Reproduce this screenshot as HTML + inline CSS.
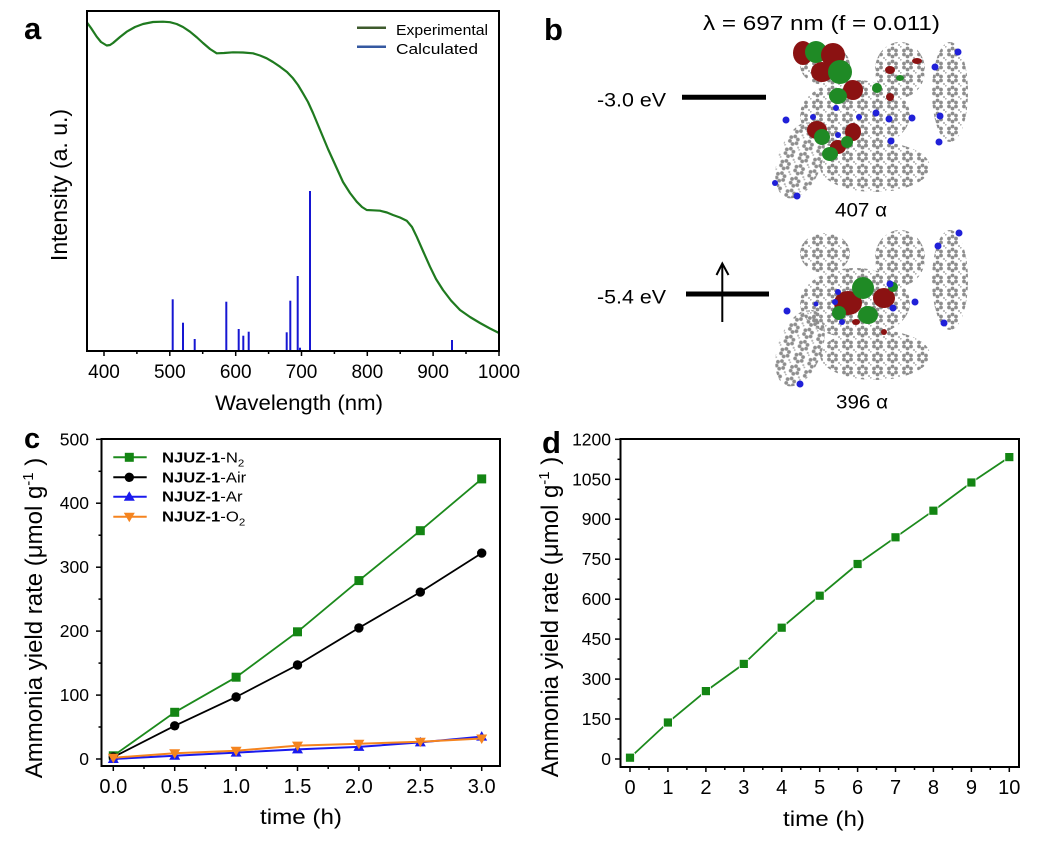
<!DOCTYPE html>
<html><head><meta charset="utf-8"><style>
html,body{margin:0;padding:0;background:#fff;}
svg{display:block;font-family:"Liberation Sans",Arial,sans-serif;}
</style></head><body>
<svg width="1039" height="841" viewBox="0 0 1039 841" xmlns="http://www.w3.org/2000/svg">
<defs>
<pattern id="atoms" width="15" height="13" patternUnits="userSpaceOnUse">
<circle cx="7.5" cy="2.5" r="1.9" fill="#8e8e8e"/>
<circle cx="11" cy="4.5" r="1.9" fill="#8e8e8e"/>
<circle cx="11" cy="8.5" r="1.9" fill="#8e8e8e"/>
<circle cx="7.5" cy="10.5" r="1.9" fill="#8e8e8e"/>
<circle cx="4" cy="8.5" r="1.9" fill="#8e8e8e"/>
<circle cx="4" cy="4.5" r="1.9" fill="#8e8e8e"/>
<circle cx="0.5" cy="0.5" r="1.2" fill="#b5b5b5"/>
<circle cx="14" cy="12" r="1.1" fill="#b5b5b5"/>
</pattern>
<g id="molshape" fill="url(#atoms)">
<ellipse cx="825" cy="253" rx="25" ry="20"/>
<ellipse cx="900" cy="258" rx="25" ry="28"/>
<ellipse cx="950" cy="280" rx="18" ry="50"/>
<ellipse cx="855" cy="303" rx="55" ry="35"/>
<ellipse cx="800" cy="348" rx="22" ry="40" transform="rotate(20 800 348)"/>
<ellipse cx="875" cy="355" rx="55" ry="25"/>
</g>
</defs>
<rect width="1039" height="841" fill="#fff"/>

<!-- ===== Panel a ===== -->
<text x="24" y="39" font-size="31" font-weight="bold">a</text>
<polyline fill="none" stroke="#1f7a1f" stroke-width="2.2" stroke-linejoin="round" points="87,22.5 91,28 96.7,36.7 101,42 106.7,45.5 110,45 113,43 120,37 126.7,31.7 135,27 143,24 153,22 163,21.7 170,22.2 176.7,24 183,27 190,31.7 197,37.5 203,43 210,49 216.7,53.3 224,53 233,52.3 243,52.5 253,53.3 260,55.5 266.7,58.3 273,62 280,66.7 287,72 293,78.3 298,85 303,93.3 308,102 313,113 318,125 323,137 328,149 333,160 338,171 343,182 350,193 356.7,201.7 362,207 366.7,210 373,210.3 380,210.7 387,212.5 393,215 400,217.5 406.7,220.7 412,227 416.7,236.7 423,251 430,266.7 436,279 443,290 451,300.5 460,310 470,317 480,323 490,328.5 499,333"/>
<g stroke="#1616d2" stroke-width="2">
<line x1="172.7" y1="351" x2="172.7" y2="299.3"/>
<line x1="183" y1="351" x2="183" y2="322.7"/>
<line x1="194.7" y1="351" x2="194.7" y2="339"/>
<line x1="226.3" y1="351" x2="226.3" y2="301.7"/>
<line x1="238.7" y1="351" x2="238.7" y2="329"/>
<line x1="243.3" y1="351" x2="243.3" y2="335.7"/>
<line x1="248.7" y1="351" x2="248.7" y2="331.7"/>
<line x1="286.7" y1="351" x2="286.7" y2="332.3"/>
<line x1="290.3" y1="351" x2="290.3" y2="300.7"/>
<line x1="297.7" y1="351" x2="297.7" y2="276"/>
<line x1="300" y1="351" x2="300" y2="347.7"/>
<line x1="310" y1="351" x2="310" y2="191"/>
<line x1="452" y1="351" x2="452" y2="340"/>
</g>
<rect x="87" y="11" width="412" height="340" fill="none" stroke="#000" stroke-width="2"/>
<g stroke="#000" stroke-width="1.5">
<line x1="104" y1="351" x2="104" y2="356"/><line x1="169.8" y1="351" x2="169.8" y2="356"/>
<line x1="235.7" y1="351" x2="235.7" y2="356"/><line x1="301.5" y1="351" x2="301.5" y2="356"/>
<line x1="367.3" y1="351" x2="367.3" y2="356"/><line x1="433.1" y1="351" x2="433.1" y2="356"/>
<line x1="499" y1="351" x2="499" y2="356"/>
<line x1="136.9" y1="351" x2="136.9" y2="354"/><line x1="202.7" y1="351" x2="202.7" y2="354"/>
<line x1="268.6" y1="351" x2="268.6" y2="354"/><line x1="334.4" y1="351" x2="334.4" y2="354"/>
<line x1="400.2" y1="351" x2="400.2" y2="354"/><line x1="466" y1="351" x2="466" y2="354"/>
</g>
<g font-size="19" text-anchor="middle" fill="#000">
<text x="104" y="378">400</text><text x="169.8" y="378">500</text><text x="235.7" y="378">600</text>
<text x="301.5" y="378">700</text><text x="367.3" y="378">800</text><text x="433.1" y="378">900</text>
<text x="499" y="378">1000</text>
</g>
<text x="215" y="410" font-size="21" textLength="168" lengthAdjust="spacingAndGlyphs">Wavelength (nm)</text>
<text transform="translate(67,185) rotate(-90)" font-size="23" text-anchor="middle">Intensity (a. u.)</text>
<line x1="357" y1="27.7" x2="386" y2="27.7" stroke="#3d5a2c" stroke-width="2.5"/>
<line x1="357" y1="46.7" x2="386" y2="46.7" stroke="#3558a0" stroke-width="2.5"/>
<text x="396" y="35" font-size="15" textLength="92" lengthAdjust="spacingAndGlyphs">Experimental</text>
<text x="396" y="54" font-size="15" textLength="82" lengthAdjust="spacingAndGlyphs">Calculated</text>

<!-- ===== Panel b ===== -->
<text x="544" y="40" font-size="31" font-weight="bold">b</text>
<text x="703" y="30" font-size="20" textLength="237" lengthAdjust="spacingAndGlyphs">λ = 697 nm (f = 0.011)</text>
<text x="597" y="106.7" font-size="19" textLength="69" lengthAdjust="spacingAndGlyphs">-3.0 eV</text>
<line x1="682" y1="97.3" x2="766" y2="97.3" stroke="#000" stroke-width="5"/>
<text x="597" y="303.3" font-size="19" textLength="69" lengthAdjust="spacingAndGlyphs">-5.4 eV</text>
<line x1="686" y1="294" x2="769" y2="294" stroke="#000" stroke-width="5"/>
<line x1="722.3" y1="322" x2="722.3" y2="264" stroke="#000" stroke-width="2"/>
<polyline points="716.5,275 722.3,263.5 728.5,275" fill="none" stroke="#000" stroke-width="2"/>
<text x="835" y="216.7" font-size="19" textLength="52" lengthAdjust="spacingAndGlyphs">407 α</text>
<text x="836" y="408.3" font-size="19" textLength="52" lengthAdjust="spacingAndGlyphs">396 α</text>

<!-- molecule 1 -->
<use href="#molshape" transform="translate(0,-188)"/>
<g>
<ellipse cx="803" cy="53" rx="10" ry="12" fill="#8b1212"/>
<ellipse cx="816" cy="52" rx="11" ry="11" fill="#1f8a25"/>
<ellipse cx="833" cy="55" rx="12" ry="12" fill="#8b1212"/>
<ellipse cx="822" cy="72" rx="11" ry="10" fill="#8b1212"/>
<ellipse cx="840" cy="72" rx="12" ry="12" fill="#1f8a25"/>
<ellipse cx="853" cy="90" rx="10" ry="10" fill="#8b1212"/>
<ellipse cx="838" cy="96" rx="9" ry="8" fill="#1f8a25"/>
<ellipse cx="817" cy="130" rx="10" ry="9" fill="#8b1212"/>
<ellipse cx="822" cy="137" rx="8" ry="8" fill="#1f8a25"/>
<ellipse cx="853" cy="132" rx="8" ry="9" fill="#8b1212"/>
<ellipse cx="838" cy="147" rx="8" ry="7" fill="#8b1212"/>
<ellipse cx="830" cy="154" rx="8" ry="7" fill="#1f8a25"/>
<ellipse cx="847" cy="142" rx="6" ry="6" fill="#1f8a25"/>
<ellipse cx="890" cy="70" rx="5" ry="4" fill="#8b1212"/>
<ellipse cx="877" cy="88" rx="5" ry="5" fill="#1f8a25"/>
<ellipse cx="917" cy="61" rx="5" ry="3" fill="#8b1212"/>
<ellipse cx="900" cy="78" rx="4" ry="3" fill="#1f8a25"/>
<ellipse cx="890" cy="97" rx="4" ry="4" fill="#8b1212"/>
</g>
<g fill="#2020d8">
<circle cx="958" cy="52" r="3.5"/><circle cx="935" cy="67" r="3.5"/><circle cx="786" cy="120" r="3.5"/>
<circle cx="813" cy="117" r="3"/><circle cx="859" cy="117" r="3"/><circle cx="876" cy="113" r="3.5"/>
<circle cx="889" cy="119" r="3.5"/><circle cx="912" cy="118" r="3.5"/><circle cx="940" cy="116" r="3.5"/>
<circle cx="939" cy="142" r="3.5"/><circle cx="891" cy="141" r="3.5"/><circle cx="797" cy="196" r="3.5"/>
<circle cx="775" cy="183" r="3"/><circle cx="836" cy="108" r="3"/><circle cx="838" cy="135" r="3"/>
</g>

<!-- molecule 2 -->
<use href="#molshape"/>
<g>
<ellipse cx="848" cy="303" rx="14" ry="12" fill="#8b1212"/>
<ellipse cx="863" cy="288" rx="11" ry="11" fill="#1f8a25"/>
<ellipse cx="868" cy="315" rx="10" ry="9" fill="#1f8a25"/>
<ellipse cx="884" cy="298" rx="11" ry="10" fill="#8b1212"/>
<ellipse cx="839" cy="313" rx="7" ry="7" fill="#1f8a25"/>
<ellipse cx="893" cy="287" rx="5" ry="5" fill="#1f8a25"/>
<ellipse cx="856" cy="322" rx="4" ry="3" fill="#8b1212"/>
<ellipse cx="884" cy="332" rx="3" ry="3" fill="#8b1212"/>
</g>
<g fill="#2020d8">
<circle cx="959" cy="233" r="3.5"/><circle cx="938" cy="246" r="3.5"/><circle cx="787" cy="311" r="3.5"/>
<circle cx="838" cy="292" r="3"/><circle cx="835" cy="302" r="3"/><circle cx="890" cy="284" r="3.5"/>
<circle cx="893" cy="308" r="3.5"/><circle cx="915" cy="302" r="3.5"/><circle cx="944" cy="323" r="3.5"/>
<circle cx="800" cy="384" r="3.5"/><circle cx="842" cy="322" r="3"/><circle cx="816" cy="304" r="2.5"/>
</g>

<!-- ===== Panel c ===== -->
<text x="24" y="448" font-size="29" font-weight="bold">c</text>
<rect x="101.5" y="439" width="398.5" height="327" fill="none" stroke="#000" stroke-width="2"/>
<g stroke="#000" stroke-width="1.5">
<line x1="96" y1="759" x2="101.5" y2="759"/><line x1="96" y1="695.1" x2="101.5" y2="695.1"/>
<line x1="96" y1="631.1" x2="101.5" y2="631.1"/><line x1="96" y1="567.2" x2="101.5" y2="567.2"/>
<line x1="96" y1="503.2" x2="101.5" y2="503.2"/><line x1="96" y1="439.3" x2="101.5" y2="439.3"/>
<line x1="98.5" y1="727" x2="101.5" y2="727"/><line x1="98.5" y1="663.1" x2="101.5" y2="663.1"/>
<line x1="98.5" y1="599.1" x2="101.5" y2="599.1"/><line x1="98.5" y1="535.2" x2="101.5" y2="535.2"/>
<line x1="98.5" y1="471.3" x2="101.5" y2="471.3"/>
<line x1="113.3" y1="766" x2="113.3" y2="771"/><line x1="174.7" y1="766" x2="174.7" y2="771"/>
<line x1="236.1" y1="766" x2="236.1" y2="771"/><line x1="297.5" y1="766" x2="297.5" y2="771"/>
<line x1="358.9" y1="766" x2="358.9" y2="771"/><line x1="420.3" y1="766" x2="420.3" y2="771"/>
<line x1="481.7" y1="766" x2="481.7" y2="771"/>
<line x1="144" y1="766" x2="144" y2="769"/><line x1="205.4" y1="766" x2="205.4" y2="769"/>
<line x1="266.8" y1="766" x2="266.8" y2="769"/><line x1="328.2" y1="766" x2="328.2" y2="769"/>
<line x1="389.6" y1="766" x2="389.6" y2="769"/><line x1="451" y1="766" x2="451" y2="769"/>
</g>
<g font-size="17.5" text-anchor="end">
<text x="89" y="765">0</text><text x="89" y="701.1">100</text><text x="89" y="637.1">200</text>
<text x="89" y="573.2">300</text><text x="89" y="509.2">400</text><text x="89" y="445.3">500</text>
</g>
<g font-size="20" text-anchor="middle">
<text x="113.3" y="793">0.0</text><text x="174.7" y="793">0.5</text><text x="236.1" y="793">1.0</text>
<text x="297.5" y="793">1.5</text><text x="358.9" y="793">2.0</text><text x="420.3" y="793">2.5</text>
<text x="481.7" y="793">3.0</text>
</g>
<text x="260" y="824" font-size="21" textLength="82" lengthAdjust="spacingAndGlyphs">time (h)</text>
<text transform="translate(42,618) rotate(-90)" font-size="24" text-anchor="middle">Ammonia yield rate (μmol g<tspan dy="-9" font-size="15">-1</tspan><tspan dy="9"> )</tspan></text>

<!-- series -->
<polyline fill="none" stroke="#1c8a1c" stroke-width="1.8" points="113.3,755.8 174.7,712.3 236.1,677.2 297.5,631.8 358.9,580.6 420.3,530.7 481.7,478.9"/>
<g fill="#138513">
<rect x="108.8" y="751.3" width="9" height="9"/><rect x="170.2" y="707.8" width="9" height="9"/>
<rect x="231.6" y="672.7" width="9" height="9"/><rect x="293" y="627.3" width="9" height="9"/>
<rect x="354.4" y="576.1" width="9" height="9"/><rect x="415.8" y="526.2" width="9" height="9"/>
<rect x="477.2" y="474.4" width="9" height="9"/>
</g>
<polyline fill="none" stroke="#000" stroke-width="1.8" points="113.3,757.1 174.7,725.8 236.1,697 297.5,665 358.9,627.9 420.3,592.1 481.7,553.1"/>
<g fill="#000">
<circle cx="113.3" cy="757.1" r="4.7"/><circle cx="174.7" cy="725.8" r="4.7"/><circle cx="236.1" cy="697" r="4.7"/>
<circle cx="297.5" cy="665" r="4.7"/><circle cx="358.9" cy="627.9" r="4.7"/><circle cx="420.3" cy="592.1" r="4.7"/>
<circle cx="481.7" cy="553.1" r="4.7"/>
</g>
<polyline fill="none" stroke="#1a1aee" stroke-width="2" points="113.3,759 174.7,755.8 236.1,752.6 297.5,749.4 358.9,746.9 420.3,742.4 481.7,736.6"/>
<g fill="#1a1aee">
<polygon points="113.3,753.5 107.8,763 118.8,763"/><polygon points="174.7,750.3 169.2,759.8 180.2,759.8"/>
<polygon points="236.1,747.1 230.6,756.6 241.6,756.6"/><polygon points="297.5,743.9 292,753.4 303,753.4"/>
<polygon points="358.9,741.4 353.4,750.9 364.4,750.9"/><polygon points="420.3,736.9 414.8,746.4 425.8,746.4"/>
<polygon points="481.7,731.1 476.2,740.6 487.2,740.6"/>
</g>
<polyline fill="none" stroke="#f5841f" stroke-width="2" points="113.3,757.7 174.7,753.2 236.1,750.7 297.5,745.6 358.9,743.7 420.3,741.7 481.7,738.5"/>
<g fill="#f5841f">
<polygon points="107.8,753.7 118.8,753.7 113.3,763.2"/><polygon points="169.2,749.2 180.2,749.2 174.7,758.7"/>
<polygon points="230.6,746.7 241.6,746.7 236.1,756.2"/><polygon points="292,741.6 303,741.6 297.5,751.1"/>
<polygon points="353.4,739.7 364.4,739.7 358.9,749.2"/><polygon points="414.8,737.7 425.8,737.7 420.3,747.2"/>
<polygon points="476.2,734.5 487.2,734.5 481.7,744"/>
</g>
<!-- legend c -->
<line x1="113.3" y1="457.3" x2="146.7" y2="457.3" stroke="#1c8a1c" stroke-width="2"/>
<rect x="124.8" y="452.8" width="9" height="9" fill="#138513"/>
<line x1="113.3" y1="477.3" x2="146.7" y2="477.3" stroke="#000" stroke-width="2"/>
<circle cx="129.3" cy="477.3" r="4.7" fill="#000"/>
<line x1="113.3" y1="496.7" x2="146.7" y2="496.7" stroke="#1a1aee" stroke-width="2"/>
<polygon points="129.3,491.2 123.8,500.7 134.8,500.7" fill="#1a1aee"/>
<line x1="113.3" y1="516.7" x2="146.7" y2="516.7" stroke="#f5841f" stroke-width="2"/>
<polygon points="123.8,512.7 134.8,512.7 129.3,522.2" fill="#f5841f"/>
<g font-size="14.5">
<text transform="translate(162,462.3) scale(1.15,1)"><tspan font-weight="bold">NJUZ-1</tspan>-N<tspan font-size="10" dy="4">2</tspan></text>
<text transform="translate(162,482.3) scale(1.15,1)"><tspan font-weight="bold">NJUZ-1</tspan>-Air</text>
<text transform="translate(162,501.7) scale(1.15,1)"><tspan font-weight="bold">NJUZ-1</tspan>-Ar</text>
<text transform="translate(162,521.7) scale(1.15,1)"><tspan font-weight="bold">NJUZ-1</tspan>-O<tspan font-size="10" dy="4">2</tspan></text>
</g>

<!-- ===== Panel d ===== -->
<text x="542" y="453" font-size="31" font-weight="bold">d</text>
<rect x="620.5" y="439" width="398.5" height="328" fill="none" stroke="#000" stroke-width="2"/>
<g stroke="#000" stroke-width="1.5">
<line x1="615" y1="759" x2="620.5" y2="759"/><line x1="615" y1="719" x2="620.5" y2="719"/>
<line x1="615" y1="679.1" x2="620.5" y2="679.1"/><line x1="615" y1="639.1" x2="620.5" y2="639.1"/>
<line x1="615" y1="599.2" x2="620.5" y2="599.2"/><line x1="615" y1="559.2" x2="620.5" y2="559.2"/>
<line x1="615" y1="519.2" x2="620.5" y2="519.2"/><line x1="615" y1="479.3" x2="620.5" y2="479.3"/>
<line x1="615" y1="439.3" x2="620.5" y2="439.3"/>
<line x1="617.5" y1="739" x2="620.5" y2="739"/><line x1="617.5" y1="699" x2="620.5" y2="699"/>
<line x1="617.5" y1="659.1" x2="620.5" y2="659.1"/><line x1="617.5" y1="619.2" x2="620.5" y2="619.2"/>
<line x1="617.5" y1="579.2" x2="620.5" y2="579.2"/><line x1="617.5" y1="539.2" x2="620.5" y2="539.2"/>
<line x1="617.5" y1="499.3" x2="620.5" y2="499.3"/><line x1="617.5" y1="459.3" x2="620.5" y2="459.3"/>
<line x1="630" y1="767" x2="630" y2="772"/><line x1="667.9" y1="767" x2="667.9" y2="772"/>
<line x1="705.9" y1="767" x2="705.9" y2="772"/><line x1="743.8" y1="767" x2="743.8" y2="772"/>
<line x1="781.7" y1="767" x2="781.7" y2="772"/><line x1="819.7" y1="767" x2="819.7" y2="772"/>
<line x1="857.6" y1="767" x2="857.6" y2="772"/><line x1="895.5" y1="767" x2="895.5" y2="772"/>
<line x1="933.4" y1="767" x2="933.4" y2="772"/><line x1="971.4" y1="767" x2="971.4" y2="772"/>
<line x1="1009.3" y1="767" x2="1009.3" y2="772"/>
<line x1="649" y1="767" x2="649" y2="770"/><line x1="686.9" y1="767" x2="686.9" y2="770"/>
<line x1="724.8" y1="767" x2="724.8" y2="770"/><line x1="762.8" y1="767" x2="762.8" y2="770"/>
<line x1="800.7" y1="767" x2="800.7" y2="770"/><line x1="838.6" y1="767" x2="838.6" y2="770"/>
<line x1="876.5" y1="767" x2="876.5" y2="770"/><line x1="914.5" y1="767" x2="914.5" y2="770"/>
<line x1="952.4" y1="767" x2="952.4" y2="770"/><line x1="990.3" y1="767" x2="990.3" y2="770"/>
</g>
<g font-size="17.5" text-anchor="end">
<text x="611" y="765">0</text><text x="611" y="725">150</text><text x="611" y="685.1">300</text>
<text x="611" y="645.1">450</text><text x="611" y="605.2">600</text><text x="611" y="565.2">750</text>
<text x="611" y="525.2">900</text><text x="611" y="485.3">1050</text><text x="611" y="445.3">1200</text>
</g>
<g font-size="20" text-anchor="middle">
<text x="630" y="794">0</text><text x="667.9" y="794">1</text><text x="705.9" y="794">2</text>
<text x="743.8" y="794">3</text><text x="781.7" y="794">4</text><text x="819.7" y="794">5</text>
<text x="857.6" y="794">6</text><text x="895.5" y="794">7</text><text x="933.4" y="794">8</text>
<text x="971.4" y="794">9</text><text x="1009.3" y="794">10</text>
</g>
<text x="783" y="826" font-size="21" textLength="82" lengthAdjust="spacingAndGlyphs">time (h)</text>
<text transform="translate(558,617) rotate(-90)" font-size="24" text-anchor="middle">Ammonia yield rate (μmol g<tspan dy="-9" font-size="15">-1</tspan><tspan dy="9"> )</tspan></text>
<polyline fill="none" stroke="#1c8a1c" stroke-width="1.8" points="630,757.7 667.9,722.5 705.9,691.1 743.8,663.9 781.7,627.7 819.7,595.7 857.6,564 895.5,537.3 933.4,510.7 971.4,482.5 1009.3,457.1"/>
<g fill="#138513" stroke="#fff" stroke-width="0.8">
<rect x="625.5" y="753.2" width="9" height="9"/><rect x="663.4" y="718" width="9" height="9"/>
<rect x="701.4" y="686.6" width="9" height="9"/><rect x="739.3" y="659.4" width="9" height="9"/>
<rect x="777.2" y="623.2" width="9" height="9"/><rect x="815.2" y="591.2" width="9" height="9"/>
<rect x="853.1" y="559.5" width="9" height="9"/><rect x="891" y="532.8" width="9" height="9"/>
<rect x="928.9" y="506.2" width="9" height="9"/><rect x="966.9" y="478" width="9" height="9"/>
<rect x="1004.8" y="452.6" width="9" height="9"/>
</g>
</svg>
</body></html>
